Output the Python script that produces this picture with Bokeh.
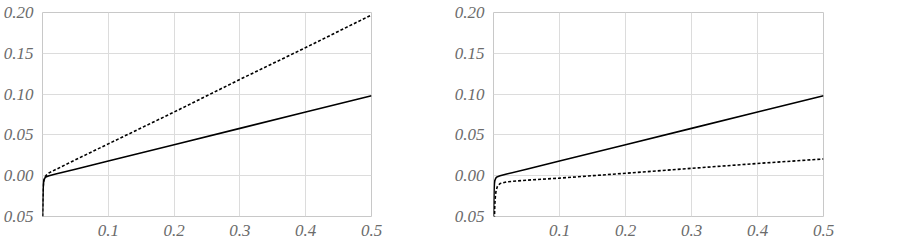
from bokeh.plotting import figure
from bokeh.layouts import row
from bokeh.models import Range1d, FixedTicker
from bokeh.embed import file_html
from bokeh.resources import INLINE

# Data
x_pts = [0.0, 0.0005, 0.001, 0.0015, 0.002, 0.003, 0.004, 0.006, 0.01, 0.02,
         0.05, 0.1, 0.2, 0.3, 0.4, 0.5]
solid = [-0.05, -0.03, -0.015, -0.009, -0.006, -0.004, -0.0025, -0.0012, 0.0,
         0.002, 0.008, 0.018, 0.038, 0.058, 0.078, 0.098]
left_dotted = [-0.05, -0.03, -0.015, -0.009, -0.006, -0.003, -0.0012, 0.0008,
               0.0035, 0.0075, 0.0195, 0.039, 0.078, 0.118, 0.157, 0.197]
right_dotted = [-0.2, -0.1, -0.07, -0.05, -0.035, -0.024, -0.018, -0.013,
                -0.0095, -0.0075, -0.0055, -0.003, 0.003, 0.009, 0.015, 0.0205]

x_ticks = [0.1, 0.2, 0.3, 0.4, 0.5]
y_ticks = [-0.05, 0.0, 0.05, 0.10, 0.15, 0.20]
y_labels = ["0.05", "0.00", "0.05", "0.10", "0.15", "0.20"]


def make(dotted, left_border):
    p = figure(width=451, height=246, output_backend="svg", toolbar_location=None,
               x_range=Range1d(0, 0.5), y_range=Range1d(-0.05, 0.20),
               min_border_left=left_border, min_border_right=451 - left_border - 330,
               min_border_top=12, min_border_bottom=30)
    p.outline_line_color = "#c8c8c8"
    p.background_fill_color = "white"
    p.border_fill_color = "white"
    p.xaxis.axis_line_color = None
    p.yaxis.axis_line_color = None
    p.xaxis.major_tick_line_color = None
    p.yaxis.major_tick_line_color = None
    p.xaxis.minor_tick_line_color = None
    p.yaxis.minor_tick_line_color = None
    p.xaxis.major_label_text_font = "Liberation Serif"
    p.yaxis.major_label_text_font = "Liberation Serif"
    p.xaxis.major_label_text_font_style = "italic"
    p.yaxis.major_label_text_font_style = "italic"
    p.xaxis.major_label_text_font_size = "17px"
    p.yaxis.major_label_text_font_size = "17px"
    p.xaxis.major_label_text_color = "#6b6b6b"
    p.yaxis.major_label_text_color = "#6b6b6b"
    p.xaxis.ticker = FixedTicker(ticks=x_ticks)
    p.yaxis.ticker = FixedTicker(ticks=y_ticks)
    p.yaxis.major_label_overrides = {t: l for t, l in zip(y_ticks, y_labels)}
    p.xaxis.major_label_overrides = {t: str(t) for t in x_ticks}
    p.xaxis.major_label_standoff = 2
    p.yaxis.major_label_standoff = 3
    p.xgrid.grid_line_color = "#dcdcdc"
    p.ygrid.grid_line_color = "#dcdcdc"
    p.line(x_pts, solid, line_color="black", line_width=1.6)
    p.line(x_pts, dotted, line_color="black", line_width=1.6, line_dash="3 2")
    return p


p1 = make(left_dotted, 41)
p2 = make(right_dotted, 42)
layout = row(p1, p2)

open("out.html", "w").write(file_html(layout, INLINE))
